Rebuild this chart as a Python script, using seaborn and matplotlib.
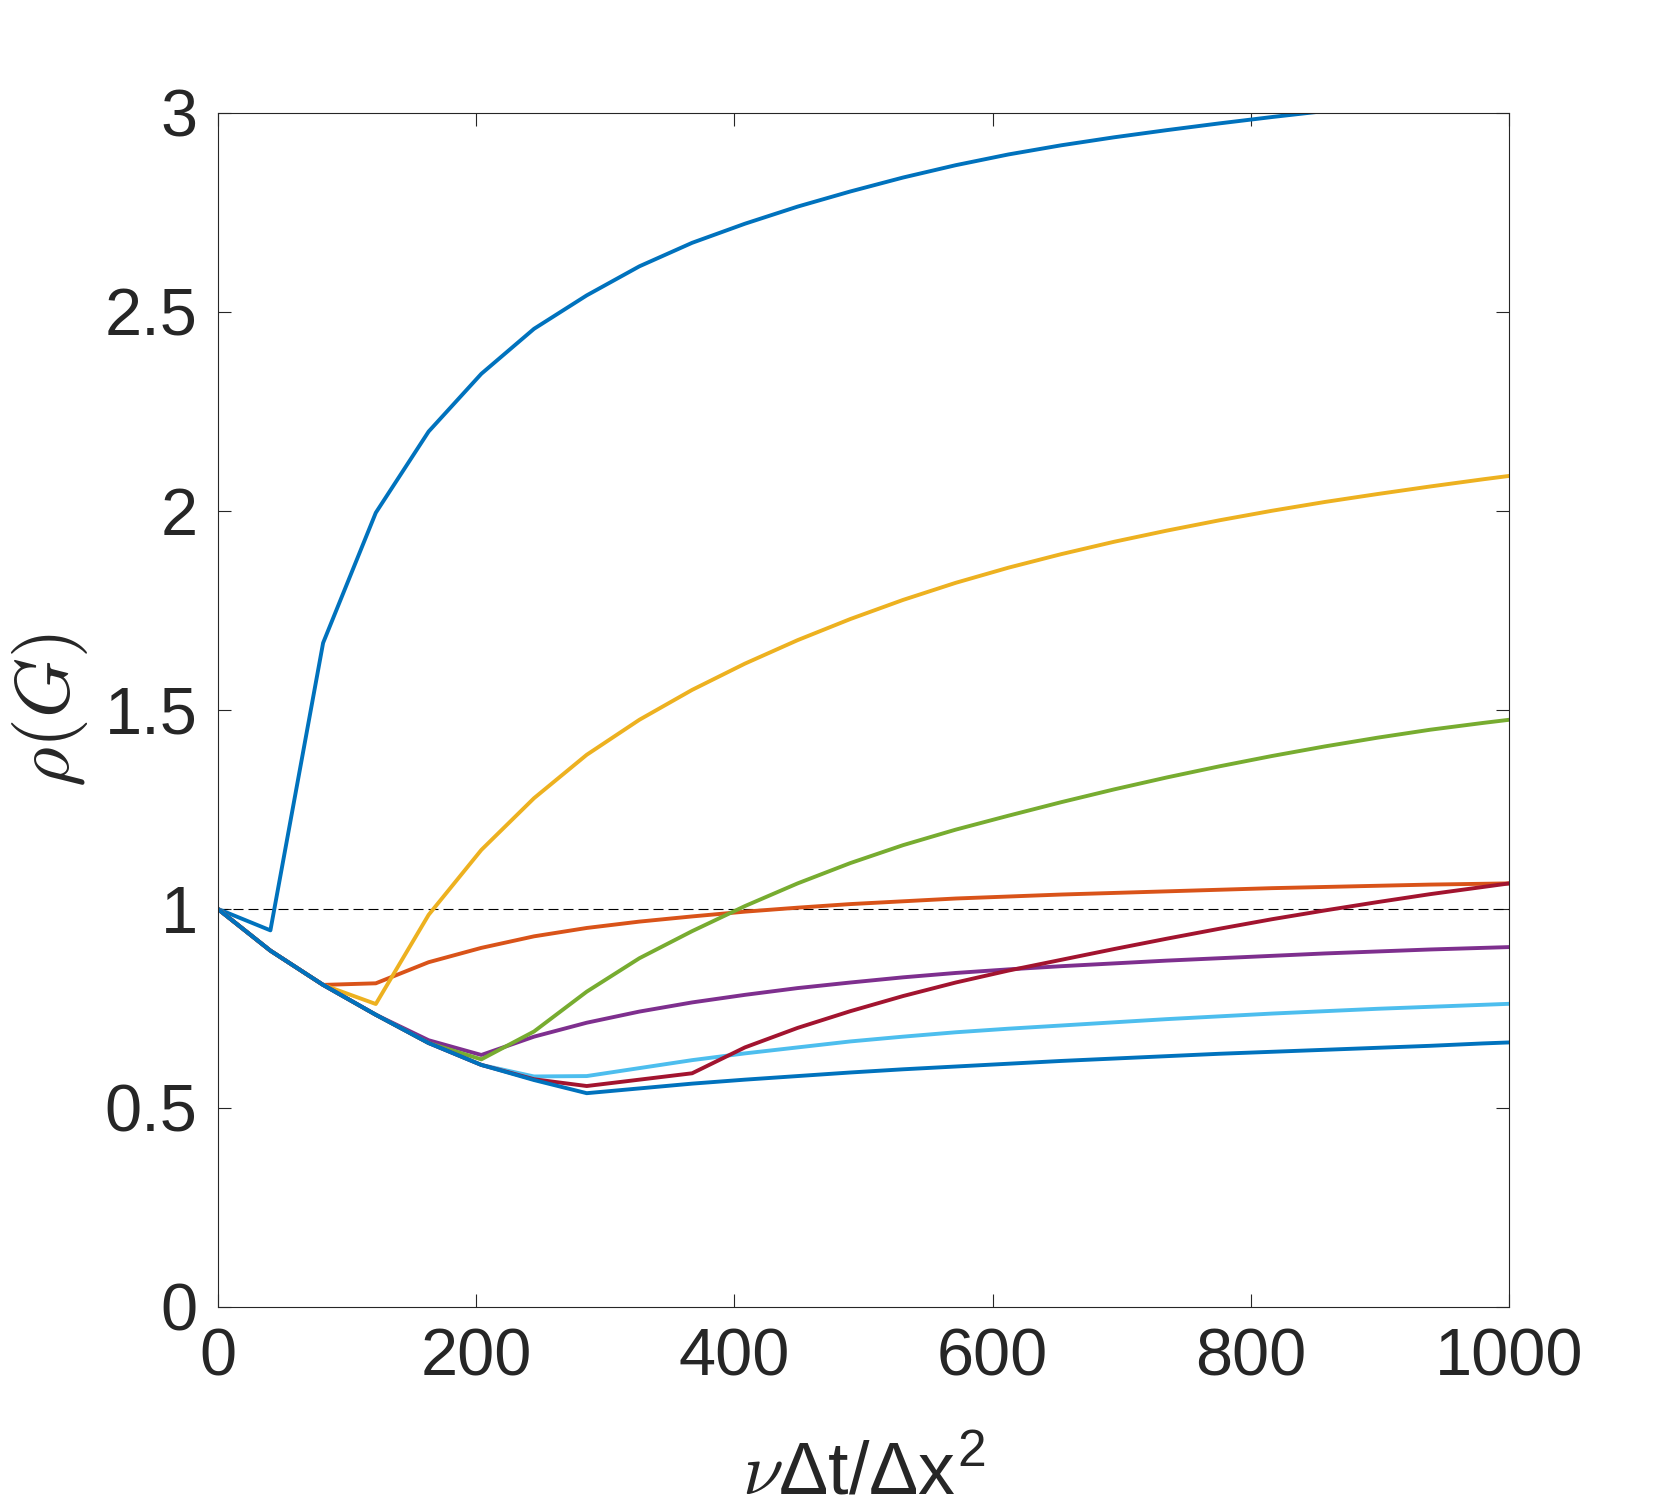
import numpy as np
import pandas as pd
import matplotlib
matplotlib.use("Agg")
import matplotlib.pyplot as plt
import seaborn as sns

# ---- data ----
x_vals = [0, 40.8, 81.6, 122.4, 163.3, 204.1, 244.9, 285.7, 326.5, 367.3,
          408.2, 449.0, 489.8, 530.6, 571.4, 612.2, 653.1, 693.9, 734.7,
          775.5, 816.3, 857.1, 898.0, 938.8, 979.6, 1020.4]

s1 = [1.0, 0.946, 1.668, 1.995, 2.199, 2.344, 2.457, 2.541, 2.614, 2.673,
      2.721, 2.764, 2.802, 2.837, 2.868, 2.895, 2.918, 2.938, 2.956, 2.973,
      2.989, 3.004, 3.019, 3.033, 3.047, 3.060]
s2 = [1.0, 0.895, 0.809, 0.813, 0.866, 0.902, 0.931, 0.952, 0.968, 0.981,
      0.993, 1.003, 1.012, 1.019, 1.026, 1.031, 1.036, 1.040, 1.044, 1.048,
      1.052, 1.055, 1.058, 1.061, 1.063, 1.065]
s3 = [1.0, 0.895, 0.809, 0.761, 0.985, 1.148, 1.278, 1.387, 1.475, 1.550,
      1.616, 1.675, 1.728, 1.776, 1.819, 1.857, 1.891, 1.922, 1.950, 1.976,
      2.000, 2.022, 2.042, 2.061, 2.079, 2.096]
s4 = [1.0, 0.895, 0.809, 0.734, 0.670, 0.633, 0.679, 0.714, 0.742, 0.765,
      0.784, 0.801, 0.815, 0.828, 0.839, 0.848, 0.856, 0.863, 0.870, 0.876,
      0.882, 0.888, 0.893, 0.898, 0.902, 0.906]
s5 = [1.0, 0.895, 0.809, 0.734, 0.663, 0.622, 0.692, 0.792, 0.876, 0.944,
      1.007, 1.064, 1.115, 1.160, 1.199, 1.234, 1.268, 1.300, 1.330, 1.358,
      1.384, 1.408, 1.430, 1.450, 1.467, 1.483]
s6 = [1.0, 0.895, 0.809, 0.734, 0.663, 0.608, 0.579, 0.580, 0.600, 0.620,
      0.637, 0.652, 0.667, 0.679, 0.690, 0.699, 0.707, 0.715, 0.723, 0.730,
      0.737, 0.743, 0.749, 0.754, 0.759, 0.764]
s7 = [1.0, 0.895, 0.809, 0.734, 0.663, 0.608, 0.572, 0.555, 0.571, 0.587,
      0.652, 0.701, 0.743, 0.781, 0.815, 0.845, 0.872, 0.899, 0.925, 0.950,
      0.974, 0.996, 1.017, 1.037, 1.055, 1.073]
s8 = [1.0, 0.895, 0.809, 0.734, 0.663, 0.608, 0.570, 0.537, 0.549, 0.561,
      0.571, 0.580, 0.589, 0.597, 0.604, 0.611, 0.618, 0.624, 0.630, 0.636,
      0.641, 0.646, 0.651, 0.656, 0.662, 0.667]

series_names = ["c1", "c2", "c3", "c4", "c5", "c6", "c7", "c8"]
series_vals = [s1, s2, s3, s4, s5, s6, s7, s8]
colors = ["#0072BD", "#D95319", "#EDB120", "#7E2F8E",
          "#77AC30", "#4DBEEE", "#A2142F", "#0072BD"]

x_ticks = [0, 200, 400, 600, 800, 1000]
y_ticks = [0, 0.5, 1, 1.5, 2, 2.5, 3]
y_ticklabels = ["0", "0.5", "1", "1.5", "2", "2.5", "3"]
ref_level = 1.0

# ---- build long table ----
rows = []
for name, vals in zip(series_names, series_vals):
    for xv, yv in zip(x_vals, vals):
        rows.append((name, xv, yv))
df = pd.DataFrame(rows, columns=["series", "x", "y"])

sns.set_theme(style="white")
plt.rcParams["font.family"] = ["Liberation Sans", "DejaVu Sans"]
plt.rcParams["mathtext.fontset"] = "cm"

fig = plt.figure(figsize=(16.67, 15.12), dpi=100)
ax = fig.add_axes([0.1306, 0.1356, 0.7748, 0.7899])

sns.lineplot(data=df, x="x", y="y", hue="series", hue_order=series_names,
             palette=dict(zip(series_names, colors)), estimator=None,
             sort=False, linewidth=2.8, legend=False, ax=ax)

ax.axhline(ref_level, color="black", linewidth=0.8, linestyle=(0, (9, 4.5)),
           zorder=1)

ax.set_xlim(0, 1000)
ax.set_ylim(0, 3)
ax.set_xticks(x_ticks)
ax.set_xticklabels([str(t) for t in x_ticks])
ax.set_yticks(y_ticks)
ax.set_yticklabels(y_ticklabels)

axis_color = "#262626"
for sp in ax.spines.values():
    sp.set_visible(True)
    sp.set_color(axis_color)
    sp.set_linewidth(0.8)
ax.tick_params(axis="both", which="major", direction="in", length=9.4,
               width=0.8, color=axis_color, labelcolor=axis_color,
               labelsize=48, pad=14.5, top=True, right=True,
               bottom=True, left=True)
ax.grid(False)

ax.set_xlabel(r"$\nu$Δt/Δx$^{\mathdefault{2}}$", fontsize=53, color=axis_color)
ax.xaxis.set_label_coords(0.5, -0.112)
ax.set_ylabel(r"$\rho(G)$", fontsize=55, color=axis_color)
ax.yaxis.set_label_coords(-0.0989, 0.5)

fig.savefig("out.png", dpi=100, facecolor="white")
